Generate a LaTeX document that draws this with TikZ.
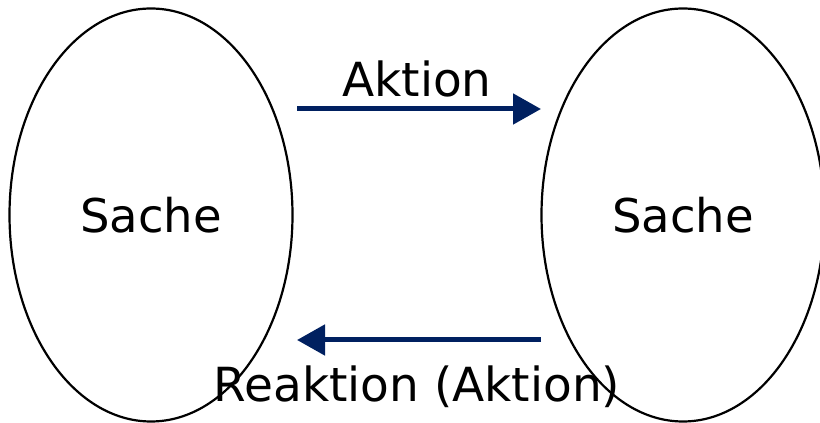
\documentclass[tikz,border=0pt]{standalone}
\usepackage{fontspec}
\setmainfont{DejaVu Sans}
\usetikzlibrary{shapes.geometric,arrows.meta}
\definecolor{navy}{HTML}{002060}

\begin{document}
\begin{tikzpicture}[x=1pt,y=1pt,
sache/.style = {ellipse, draw=black, line width=2.2pt, minimum width=283pt, minimum height=413pt, inner sep=0pt, font=\fontsize{46.5}{56}\selectfont},
lbl/.style = {anchor=base, inner sep=0pt, font=\fontsize{47}{56}\selectfont},
pfeil/.style = {draw=navy, line width=5pt, -{Triangle[length=28pt,width=30pt]}}]
\useasboundingbox (0,0) rectangle (820,423);
    \node[sache] (L) at (151,208) {Sache};
    \node[sache] (R) at (683,208) {Sache};

    \coordinate (a1) at (297,314);
    \coordinate (a2) at (541,314);
    \coordinate (r1) at (541,83);
    \coordinate (r2) at (297,83);
    \draw[pfeil] (a1) -- (a2);
    \draw[pfeil] (r1) -- (r2);

    \node[lbl] (akt) at (417,326) {Aktion};
    \node[lbl] (reakt) at (417,21) {Reaktion (Aktion)};
\end{tikzpicture}
\end{document}
